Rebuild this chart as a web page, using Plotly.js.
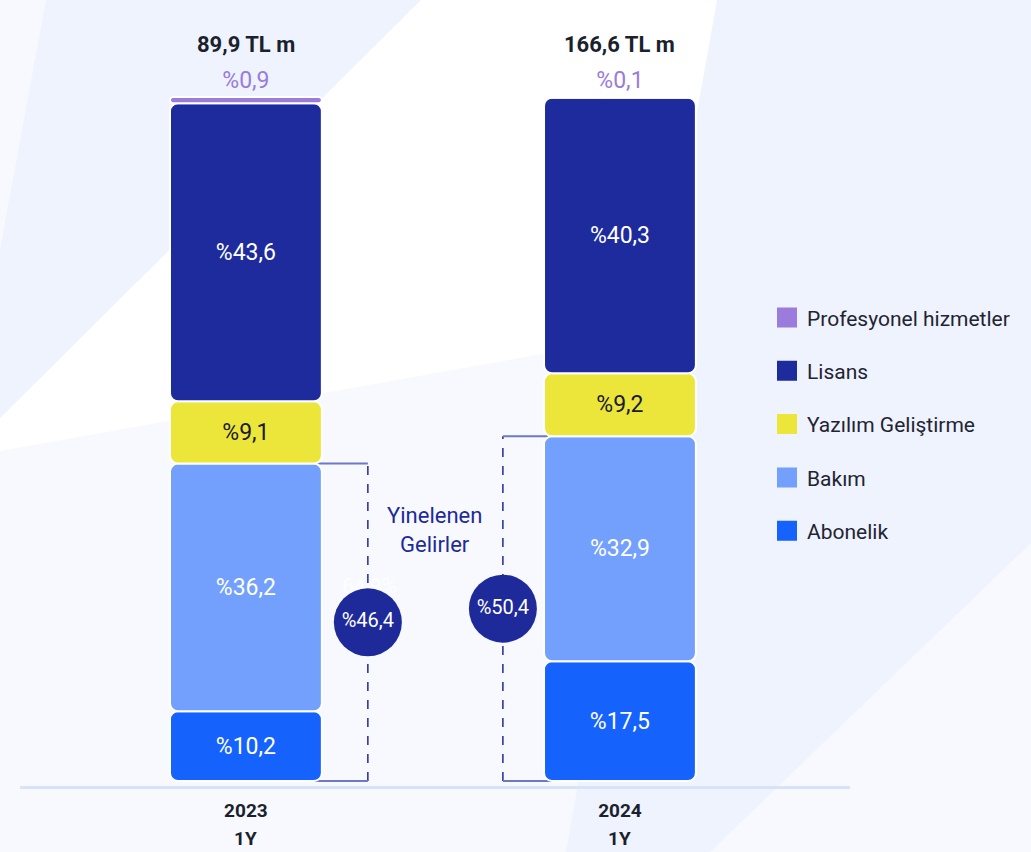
<!DOCTYPE html>
<html><head><meta charset="utf-8">
<script src="https://cdn.plot.ly/plotly-3.0.1.min.js"></script>
<style>html,body{margin:0;padding:0;background:#f7f9fe}</style>
</head><body><div id="chart" style="width:1031px;height:852px"></div>
<script>
// ---- data ----
const years = ['2023', '2024'];
const periods = ['1Y', '1Y'];
const totals = [89.9, 166.6];            // TL m
const seriesNames = ['Abonelik', 'Bakım', 'Yazılım Geliştirme', 'Lisans', 'Profesyonel hizmetler'];
const abonelik = [10.2, 17.5];
const bakim = [36.2, 32.9];
const yazilim = [9.1, 9.2];
const lisans = [43.6, 40.3];
const profesyonel = [0.9, 0.1];
const recurringTitle = 'Yinelenen<br>Gelirler';
const hiddenLabel = '64,9%';

// ---- styles ----
const colors = ['#1562fd', '#72a0fc', '#ece63a', '#1e2b9c', '#9b7bdc'];
const textColors = ['#ffffff', '#ffffff', '#1a1a2a', '#ffffff', '#9b7bdc'];
const navy = '#1e2a9a';
const fmt = v => '%' + v.toFixed(1).replace('.', ',');

const series = [abonelik, bakim, yazilim, lisans, profesyonel];
const xs = years.map((_, i) => i);
const traces = [];
let base = xs.map(() => 0);
series.forEach((vals, k) => {
  traces.push({
    type: 'bar', x: xs, y: vals, base: base.slice(), width: 0.406,
    name: seriesNames[k], showlegend: false, hoverinfo: 'skip',
    marker: {color: colors[k], line: {color: '#ffffff', width: 2}, cornerradius: 8},
    text: vals.map(fmt),
    textposition: k === series.length - 1 ? 'outside' : 'inside',
    insidetextanchor: 'middle', constraintext: 'none', cliponaxis: false,
    textfont: {family: 'Roboto', size: 23, color: textColors[k]}
  });
  base = base.map((b, i) => b + vals[i]);
});

// recurring revenue (Abonelik + Bakım)
const recurring = xs.map(i => abonelik[i] + bakim[i]);
const bracketX = [0.326, 1 - 0.313];
const bracketInner = [0.158, 1 - 0.152];

// faint label behind the circle
traces.push({
  type: 'scatter', mode: 'text', x: [0.33], y: [28.2], text: [hiddenLabel], cliponaxis: false,
  showlegend: false, hoverinfo: 'skip',
  textfont: {family: 'Roboto', size: 21, color: 'rgba(255,255,255,0.85)'}
});
traces.push({
  type: 'scatter', mode: 'markers+text', x: bracketX, y: recurring.map(v => v / 2),
  text: recurring.map(fmt), textposition: 'middle center', cliponaxis: false,
  marker: {size: 68, color: navy}, showlegend: false, hoverinfo: 'skip',
  textfont: {family: 'Roboto', size: 20, color: '#ffffff'}
});

// legend entries (top to bottom)
for (let k = series.length - 1; k >= 0; k--) {
  traces.push({
    type: 'scatter', mode: 'markers', x: [null], y: [null], name: seriesNames[k],
    legendgroup: 'g' + k, showlegend: true,
    marker: {symbol: 'square', size: 16, color: colors[k], line: {color: colors[k], width: 4}}
  });
}

// pixel -> paper helper for decorative background
const L = 20, T = 40, W = 830, H = 746;
const P = (px, py) => ((px - L) / W).toFixed(4) + ',' + ((T + H - py) / H).toFixed(4);
const poly = pts => 'M' + pts.map(p => P(p[0], p[1])).join(' L') + ' Z';

const shapes = [
  {type: 'path', xref: 'paper', yref: 'paper', layer: 'below', line: {width: 0}, fillcolor: '#ffffff',
   path: poly([[421, 0], [717, 0], [659, 333], [0, 451], [0, 418]])},
  {type: 'path', xref: 'paper', yref: 'paper', layer: 'below', line: {width: 0}, fillcolor: '#eef3fd',
   path: poly([[46, 0], [421, 0], [0, 418], [0, 250]])},
  {type: 'path', xref: 'paper', yref: 'paper', layer: 'below', line: {width: 0}, fillcolor: '#eef3fd',
   path: poly([[717, 0], [1031, 0], [1031, 543], [710, 852], [566, 852]])}
];
xs.forEach(i => {
  shapes.push({type: 'line', layer: 'below', xref: 'x', yref: 'y', x0: bracketX[i], x1: bracketX[i], y0: 0, y1: recurring[i],
    line: {color: navy, width: 1.5, dash: 'dash'}});
  shapes.push({type: 'line', layer: 'below', xref: 'x', yref: 'y', x0: bracketInner[i], x1: bracketX[i], y0: recurring[i], y1: recurring[i],
    line: {color: '#6f78c4', width: 2}});
  shapes.push({type: 'line', layer: 'below', xref: 'x', yref: 'y', x0: bracketInner[i], x1: bracketX[i], y0: 0, y1: 0,
    line: {color: '#6f78c4', width: 2}});
});

const annotations = [];
xs.forEach(i => {
  annotations.push({x: i, y: 100, xref: 'x', yref: 'y', yanchor: 'bottom', yshift: 38, showarrow: false,
    text: totals[i].toFixed(1).replace('.', ',') + ' TL m',
    font: {family: 'Roboto', size: 22, color: '#1b1f2e', weight: 'bold'}});
  annotations.push({x: i, y: (T + H - 838) / H, xref: 'x', yref: 'paper', yanchor: 'middle', showarrow: false,
    text: periods[i], font: {family: 'Roboto', size: 19, color: '#1b1f2e', weight: 'bold'}});
});
annotations.push({x: 0.505, y: 36.7, xref: 'x', yref: 'y', showarrow: false, text: recurringTitle,
  font: {family: 'Roboto', size: 22, color: navy}});

const layout = {
  width: 1031, height: 852, autosize: false,
  margin: {l: L, r: 1031 - L - W, t: T, b: 852 - T - H},
  paper_bgcolor: '#f7f9fe', plot_bgcolor: 'rgba(0,0,0,0)',
  barmode: 'overlay', hovermode: false,
  xaxis: {type: 'linear', range: [-0.604, 1.615], tickvals: xs, ticktext: years,
    showgrid: false, zeroline: false, showline: true, linecolor: '#d7e3fb', linewidth: 3,
    ticks: '', ticklabelstandoff: 5,
    tickfont: {family: 'Roboto', size: 19, color: '#1b1f2e', weight: 'bold'}},
  yaxis: {range: [-0.73, 108.33], visible: false, showgrid: false, zeroline: false},
  showlegend: true,
  legend: {x: 0.9, xanchor: 'left', y: 0.655, yanchor: 'top', traceorder: 'grouped',
    tracegroupgap: 23, bgcolor: 'rgba(0,0,0,0)', itemclick: false,
    font: {family: 'Roboto', size: 21, color: '#1f2433'}},
  shapes: shapes, annotations: annotations
};
Plotly.newPlot('chart', traces, layout, {displayModeBar: false, staticPlot: true});
</script></body></html>
